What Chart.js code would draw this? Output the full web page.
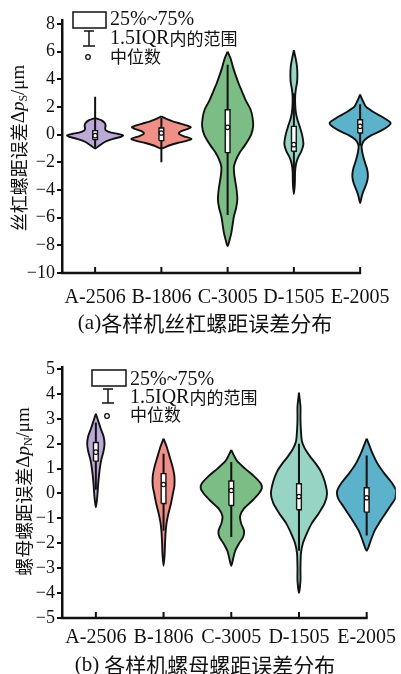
<!DOCTYPE html>
<html>
<head>
<meta charset="utf-8">
<script src="https://cdn.jsdelivr.net/npm/chart.js@4.4.1/dist/chart.umd.min.js"></script>
<style>
  html, body { margin: 0; padding: 0; background: #fff; }
  body { width: 401px; height: 674px; overflow: hidden; position: relative; }
  canvas { position: absolute; left: 0; display: block; }
  #screw { top: 0; }
  #nut { top: 337px; }
</style>
</head>
<body>
<canvas id="screw" width="401" height="337"></canvas>
<canvas id="nut" width="401" height="337"></canvas>
<script>
// ---------------- data ----------------
const CATEGORIES = ['A-2506', 'B-1806', 'C-3005', 'D-1505', 'E-2005'];
const COLORS = ['#bba9d6', '#ee8f88', '#7bbd84', '#97d4c4', '#5cb2cb'];

// (a) lead-screw pitch error Δp_S (µm): density outline as [value, density]
const SCREW_A = [[1.2,0],[1.05,0.6],[0.85,0.95],[0.65,1.05],[0.45,1.0],[0.3,1.1],[0.15,1.6],[0.05,2.3],[-0.05,2.8],[-0.15,2.6],[-0.3,1.8],[-0.45,1.2],[-0.6,0.8],[-0.8,0.4],[-1.0,0]];
const SCREW_B = [[1.32,0],[1.15,0.5],[0.95,1.2],[0.8,1.9],[0.65,2.6],[0.53,2.95],[0.4,2.6],[0.25,2.0],[0.08,1.75],[-0.1,2.2],[-0.3,3.0],[-0.45,2.5],[-0.6,1.6],[-0.8,0.7],[-1.0,0]];
const SCREW_C = [[6.0,0],[5.5,0.3],[4.9,0.53],[4.3,0.8],[3.7,1.1],[3.1,1.45],[2.5,1.8],[1.8,2.3],[1.2,2.5],[0.6,2.55],[0.0,2.35],[-0.4,2.05],[-0.9,1.6],[-1.3,1.2],[-1.8,0.85],[-2.3,0.63],[-2.8,0.65],[-3.3,0.75],[-4.0,0.9],[-4.7,0.97],[-5.3,0.85],[-5.9,0.63],[-6.5,0.5],[-7.1,0.37],[-7.6,0.2],[-8.05,0]];
const SCREW_D = [[6.1,0],[5.6,0.15],[5.0,0.3],[4.4,0.35],[3.8,0.32],[3.3,0.2],[2.8,0.13],[2.2,0.13],[1.6,0.2],[1.1,0.35],[0.6,0.58],[0.0,0.82],[-0.7,0.95],[-1.2,0.75],[-1.6,0.45],[-2.1,0.22],[-2.7,0.12],[-3.5,0.1],[-4.3,0]];
const SCREW_E = [[2.9,0],[2.4,0.3],[2.05,0.55],[1.75,1.1],[1.45,1.8],[1.15,2.5],[0.85,3.05],[0.55,2.7],[0.25,2.0],[-0.05,1.1],[-0.35,0.5],[-0.6,0.25],[-0.85,0.15],[-1.2,0.2],[-1.6,0.32],[-2.05,0.5],[-2.5,0.7],[-3.0,0.78],[-3.5,0.65],[-4.1,0.32],[-4.5,0.15],[-4.95,0]];
const SCREW_Q1  = [-0.36, -0.43, -1.3, -1.2, 0.12];
const SCREW_MED = [-0.07, 0.12, 0.53, -0.72, 0.6];
const SCREW_Q3  = [0.29, 0.48, 1.8, 0.6, 1.08];
const SCREW_LO  = [-0.95, -2.0, -5.8, -3.6, -0.8];
const SCREW_HI  = [2.75, 1.2, 5.06, 3.0, 2.2];
const SCREW_TICKS = [-10, -8, -6, -4, -2, 0, 2, 4, 6, 8];

// (b) nut pitch error Δp_N (µm)
const NUT_A = [[3.2,0],[2.9,0.25],[2.6,0.5],[2.3,0.78],[2.0,0.88],[1.7,0.78],[1.35,0.55],[1.0,0.4],[0.65,0.3],[0.3,0.22],[0.0,0.17],[-0.3,0.1],[-0.55,0]];
const NUT_B = [[2.2,0],[1.9,0.3],[1.5,0.6],[1.1,0.9],[0.7,1.1],[0.3,1.1],[0.0,0.95],[-0.4,0.75],[-0.8,0.5],[-1.2,0.3],[-1.6,0.2],[-2.0,0.15],[-2.5,0.1],[-2.9,0]];
const NUT_C = [[1.75,0],[1.5,0.3],[1.3,0.6],[1.0,1.4],[0.7,2.3],[0.4,3.0],[0.2,3.1],[0.0,2.8],[-0.3,2.1],[-0.6,1.3],[-0.9,0.9],[-1.2,1.0],[-1.5,1.3],[-1.75,1.2],[-2.0,0.8],[-2.3,0.4],[-2.6,0.2],[-2.9,0]];
const NUT_D = [[4.05,0],[3.5,0.15],[3.0,0.15],[2.5,0.2],[2.1,0.3],[1.8,0.6],[1.5,1.1],[1.2,1.7],[0.9,2.2],[0.5,2.6],[0.0,2.85],[-0.4,2.6],[-0.8,2.0],[-1.2,1.3],[-1.6,0.8],[-2.0,0.4],[-2.4,0.2],[-3.0,0.15],[-3.5,0.15],[-4.0,0]];
const NUT_E = [[2.2,0],[1.9,0.3],[1.6,0.6],[1.2,1.1],[0.8,1.8],[0.4,2.6],[0.1,3.0],[-0.2,2.9],[-0.5,2.4],[-0.8,1.9],[-1.1,1.4],[-1.5,0.8],[-1.9,0.4],[-2.3,0]];
const NUT_Q1  = [1.3, -0.4, -0.48, -0.65, -0.75];
const NUT_MED = [1.66, 0.36, 0.12, -0.12, -0.17];
const NUT_Q3  = [2.05, 0.8, 0.5, 0.39, 0.23];
const NUT_LO  = [0.15, -1.5, -1.75, -2.3, -1.69];
const NUT_HI  = [2.85, 1.6, 1.26, 2.0, 1.53];
const NUT_TICKS = [-5, -4, -3, -2, -1, 0, 1, 2, 3, 4, 5];

const LEGEND_LINES = ['25%~75%', '1.5IQR内的范围', '中位数'];

// ---------------- drawing helpers ----------------
const SERIF = "'Liberation Serif', 'Times New Roman', serif";
const CJK = "'Noto Sans CJK SC', sans-serif";
const INK = '#111';

function violinDatasets(profiles, q1, med, q3, lo, hi, densityScale, boxHalf) {
  const sets = [];
  profiles.forEach((prof, i) => {
    const right = prof.map(([v, d]) => ({ x: i + d * densityScale, y: v }));
    const left = prof.slice(0, -1).reverse().map(([v, d]) => ({ x: i - d * densityScale, y: v }));
    sets.push({ data: right.concat(left), borderColor: INK, borderWidth: 1.9,
      backgroundColor: COLORS[i], fill: 'shape', tension: 0.25, pointRadius: 0, order: 4 });
    sets.push({ data: [{ x: i, y: lo[i] }, { x: i, y: hi[i] }], borderColor: INK, borderWidth: 2,
      fill: false, pointRadius: 0, order: 3 });
    sets.push({ data: [
        { x: i - boxHalf, y: q1[i] }, { x: i + boxHalf, y: q1[i] },
        { x: i + boxHalf, y: q3[i] }, { x: i - boxHalf, y: q3[i] }, { x: i - boxHalf, y: q1[i] }],
      borderColor: INK, borderWidth: 1.4, backgroundColor: '#fff', fill: 'shape', tension: 0,
      pointRadius: 0, order: 2 });
    sets.push({ data: [{ x: i, y: med[i] }], showLine: false, pointRadius: 2.2,
      pointBackgroundColor: '#fff', pointBorderColor: INK, pointBorderWidth: 1.2, order: 1 });
  });
  return sets;
}

// split text into Latin / CJK runs, each with its own font
function runsOf(text, latinFont, cjkFont) {
  const runs = [];
  for (const ch of text) {
    const isCjk = /[\u3400-\u9fff]/.test(ch);
    const font = isCjk ? cjkFont : latinFont;
    if (runs.length && runs[runs.length - 1].font === font) runs[runs.length - 1].t += ch;
    else runs.push({ t: ch, font: font, dy: 0 });
  }
  return runs;
}

function drawRuns(ctx, runs, x, y, align) {
  ctx.textBaseline = 'middle';
  ctx.textAlign = 'left';
  let total = 0;
  runs.forEach(r => { ctx.font = r.font; r.w = ctx.measureText(r.t).width; total += r.w; });
  let cx = align === 'center' ? x - total / 2 : x;
  runs.forEach(r => { ctx.font = r.font; ctx.fillText(r.t, cx, y + (r.dy || 0)); cx += r.w; });
}

const decorPlugin = {
  id: 'panelDecor',
  afterDraw(chart, args, o) {
    const { ctx, scales: { x, y } } = chart;
    ctx.save();
    ctx.strokeStyle = INK;
    ctx.fillStyle = INK;
    ctx.lineCap = 'butt';

    // x axis baseline up to the last category, with inward ticks
    const base = y.bottom;
    const xs = x.getPixelForValue(-0.5) - 1.25;
    const xe = x.getPixelForValue(CATEGORIES.length - 1) + 1;
    ctx.lineWidth = 2.5;
    ctx.beginPath(); ctx.moveTo(xs, base); ctx.lineTo(xe, base); ctx.stroke();
    ctx.lineWidth = 2;
    CATEGORIES.forEach((_, i) => {
      const px = x.getPixelForValue(i);
      ctx.beginPath(); ctx.moveTo(px, base); ctx.lineTo(px, base - 6); ctx.stroke();
    });

    // legend: box, whisker, median
    const L = o.legend;
    ctx.lineWidth = 1.5;
    ctx.strokeRect(L.boxX, L.boxY, L.boxW, L.boxH);
    ctx.beginPath();
    ctx.moveTo(L.wx - 5, L.wTop); ctx.lineTo(L.wx + 5, L.wTop);
    ctx.moveTo(L.wx, L.wTop); ctx.lineTo(L.wx, L.wBot);
    ctx.moveTo(L.wx - 6, L.wBot); ctx.lineTo(L.wx + 6, L.wBot);
    ctx.stroke();
    ctx.lineWidth = 1.3;
    ctx.beginPath(); ctx.arc(L.wx - 1, L.dotY, 2.3, 0, Math.PI * 2);
    ctx.fillStyle = '#fff'; ctx.fill(); ctx.stroke();
    ctx.fillStyle = INK;
    LEGEND_LINES.forEach((t, k) => {
      drawRuns(ctx, runsOf(t, `20px ${SERIF}`, `17px ${CJK}`), L.textX, L.textY[k], 'left');
    });

    // rotated y-axis title with italic p and subscript
    const T = o.yTitle;
    ctx.save();
    ctx.translate(T.x, T.y);
    ctx.rotate(-Math.PI / 2);
    drawRuns(ctx, [
      { t: T.cjk, font: `18px ${CJK}` },
      { t: 'Δ', font: `19px ${SERIF}` },
      { t: 'p', font: `italic 19px ${SERIF}` },
      { t: T.sub, font: `12px ${SERIF}`, dy: 5 },
      { t: '/μm', font: `19px ${SERIF}` }
    ], 0, 0, 'center');
    ctx.restore();

    // caption under the panel
    const C = o.caption;
    drawRuns(ctx, runsOf(C.text, `21px ${SERIF}`, `21px ${CJK}`), C.x, C.y, 'center');
    ctx.restore();
  }
};

function fmtTick(v) { return v < 0 ? '\u2212' + Math.abs(v) : String(v); }

function makePanel(id, p) {
  return new Chart(document.getElementById(id), {
    type: 'line',
    data: { datasets: p.datasets },
    options: {
      responsive: false,
      animation: false,
      events: [],
      layout: { padding: p.padding },
      plugins: { legend: { display: false }, tooltip: { enabled: false }, panelDecor: p.decor },
      scales: {
        x: {
          type: 'linear', min: -0.5, max: p.xMax,
          grid: { display: false }, border: { display: false },
          afterBuildTicks: s => { s.ticks = CATEGORIES.map((_, i) => ({ value: i })); },
          afterFit: s => { s.height = p.xHeight; },
          ticks: { autoSkip: false, maxRotation: 0, minRotation: 0, padding: p.xPad, color: INK,
            font: { family: SERIF, size: 20 }, callback: v => CATEGORIES[v] }
        },
        y: {
          type: 'linear', min: p.yMin, max: p.yMax,
          afterBuildTicks: s => { s.ticks = p.ticks.map(v => ({ value: v })); },
          afterFit: s => { s.width = 62; },
          grid: { drawOnChartArea: false, drawTicks: true, tickLength: 5, color: INK, lineWidth: 2 },
          border: { color: INK, width: 2.5 },
          ticks: { padding: 2, color: INK, font: { family: SERIF, size: 18 }, callback: v => fmtTick(v) }
        }
      }
    },
    plugins: [decorPlugin]
  });
}

makePanel('screw', {
  datasets: violinDatasets([SCREW_A, SCREW_B, SCREW_C, SCREW_D, SCREW_E],
    SCREW_Q1, SCREW_MED, SCREW_Q3, SCREW_LO, SCREW_HI, 0.151, 0.036),
  padding: { top: 19.85, right: 7.75, left: 0, bottom: 0 },
  xMax: 4.5, xHeight: 64, xPad: 5,
  yMin: -10, yMax: 8.3, ticks: SCREW_TICKS,
  decor: {
    legend: { boxX: 73, boxY: 12, boxW: 33, boxH: 16, wx: 89, wTop: 31, wBot: 46, dotY: 57,
      textX: 110, textY: [20, 39, 57] },
    yTitle: { x: 19, y: 148, cjk: '丝杠螺距误差', sub: 'S' },
    caption: { text: '(a)各样机丝杠螺距误差分布', x: 205, y: 323 }
  }
});

makePanel('nut', {
  datasets: violinDatasets([NUT_A, NUT_B, NUT_C, NUT_D, NUT_E],
    NUT_Q1, NUT_MED, NUT_Q3, NUT_LO, NUT_HI, 0.1454, 0.035),
  padding: { top: 30, right: 0, left: 0, bottom: 0 },
  xMax: 4.43, xHeight: 56, xPad: 0,
  yMin: -5, yMax: 5.08, ticks: NUT_TICKS,
  decor: {
    legend: { boxX: 92, boxY: 33, boxW: 34, boxH: 16, wx: 108, wTop: 52, wBot: 66, dotY: 79,
      textX: 130, textY: [43, 61, 78] },
    yTitle: { x: 24, y: 154.5, cjk: '螺母螺距误差', sub: 'N' },
    caption: { text: '(b) 各样机螺母螺距误差分布', x: 205, y: 328 }
  }
});
</script>
</body>
</html>
